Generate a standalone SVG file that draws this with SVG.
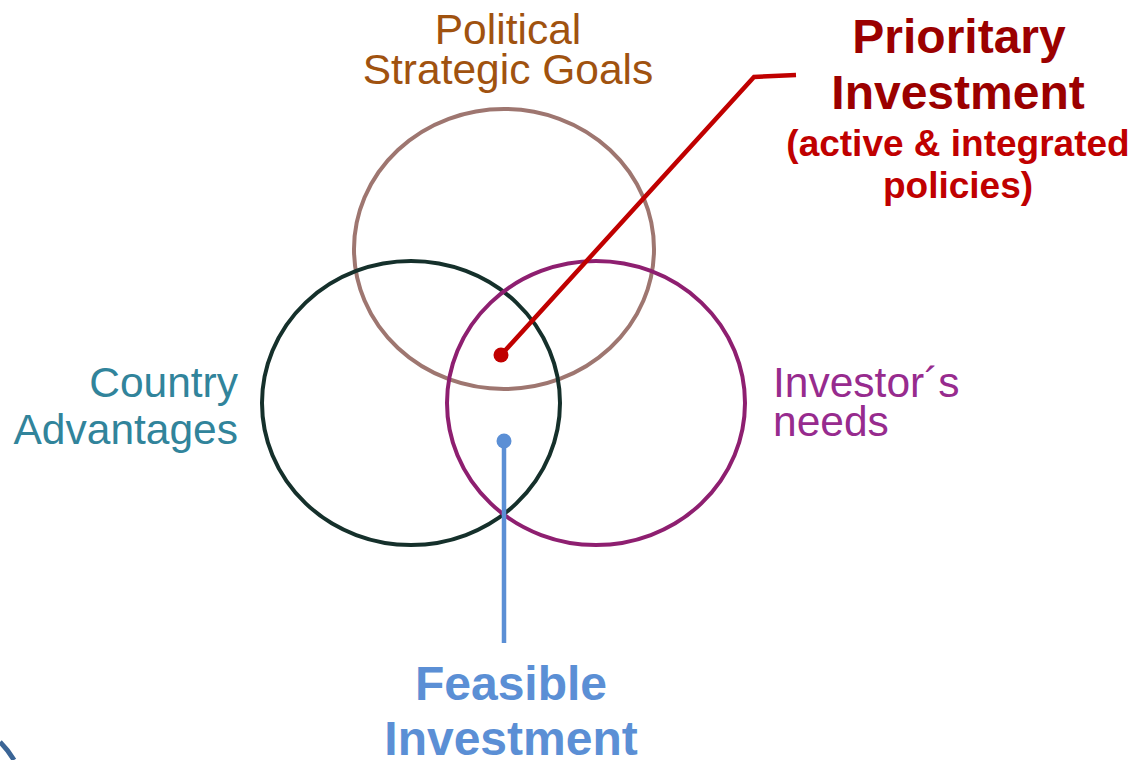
<svg xmlns="http://www.w3.org/2000/svg" width="1136" height="760" viewBox="0 0 1136 760">
<style>
.reg{font-family:"Liberation Sans",Arial,sans-serif;font-size:42.5px;}
.b{font-family:"Liberation Sans",Arial,sans-serif;font-weight:bold;}
.ring{fill:none;stroke-width:4;}
</style>
<rect width="1136" height="760" fill="#ffffff"/>
<path d="M0,742 Q8,750 14,760" fill="none" stroke="#3B6596" stroke-width="5"/>
<g id="political">
<ellipse class="ring" cx="504" cy="249" rx="150" ry="140" stroke="#9E7670"/>
<text class="reg" x="508" y="44" fill="#A0520F" text-anchor="middle">Political</text>
<text class="reg" x="508" y="84" fill="#A0520F" text-anchor="middle">Strategic Goals</text>
</g>
<g id="country">
<ellipse class="ring" cx="411" cy="403" rx="149" ry="142" stroke="#15302B"/>
<text class="reg" x="238" y="397" fill="#31849B" text-anchor="end">Country</text>
<text class="reg" x="238" y="444" fill="#31849B" text-anchor="end">Advantages</text>
</g>
<g id="investor">
<ellipse class="ring" cx="596" cy="403" rx="149" ry="142" stroke="#8E1F70"/>
<text class="reg" x="773" y="397" fill="#972B8E">Investor´s</text>
<text class="reg" x="773" y="436" fill="#972B8E">needs</text>
</g>
<g id="connectors">
<polyline points="501,355 754,77 796,75" fill="none" stroke="#C00000" stroke-width="4.5"/>
<circle cx="501" cy="355" r="7.5" fill="#C00000"/>
<line x1="504" y1="441" x2="504" y2="643" stroke="#5B8FD5" stroke-width="4.5"/>
<circle cx="504" cy="441" r="7.5" fill="#5B8FD5"/>
</g>
<g id="prioritary">
<text class="b" x="959" y="53" font-size="48" fill="#9B0000" text-anchor="middle">Prioritary</text>
<text class="b" x="958" y="109" font-size="48" fill="#9B0000" text-anchor="middle">Investment</text>
<text class="b" x="958" y="156" font-size="37" fill="#C00000" text-anchor="middle">(active &amp; integrated</text>
<text class="b" x="958" y="198" font-size="37" fill="#C00000" text-anchor="middle">policies)</text>
</g>
<g id="feasible">
<text class="b" x="511" y="700" font-size="48" fill="#5B8FD5" text-anchor="middle">Feasible</text>
<text class="b" x="511" y="755" font-size="48" fill="#5B8FD5" text-anchor="middle">Investment</text>
</g>
</svg>
